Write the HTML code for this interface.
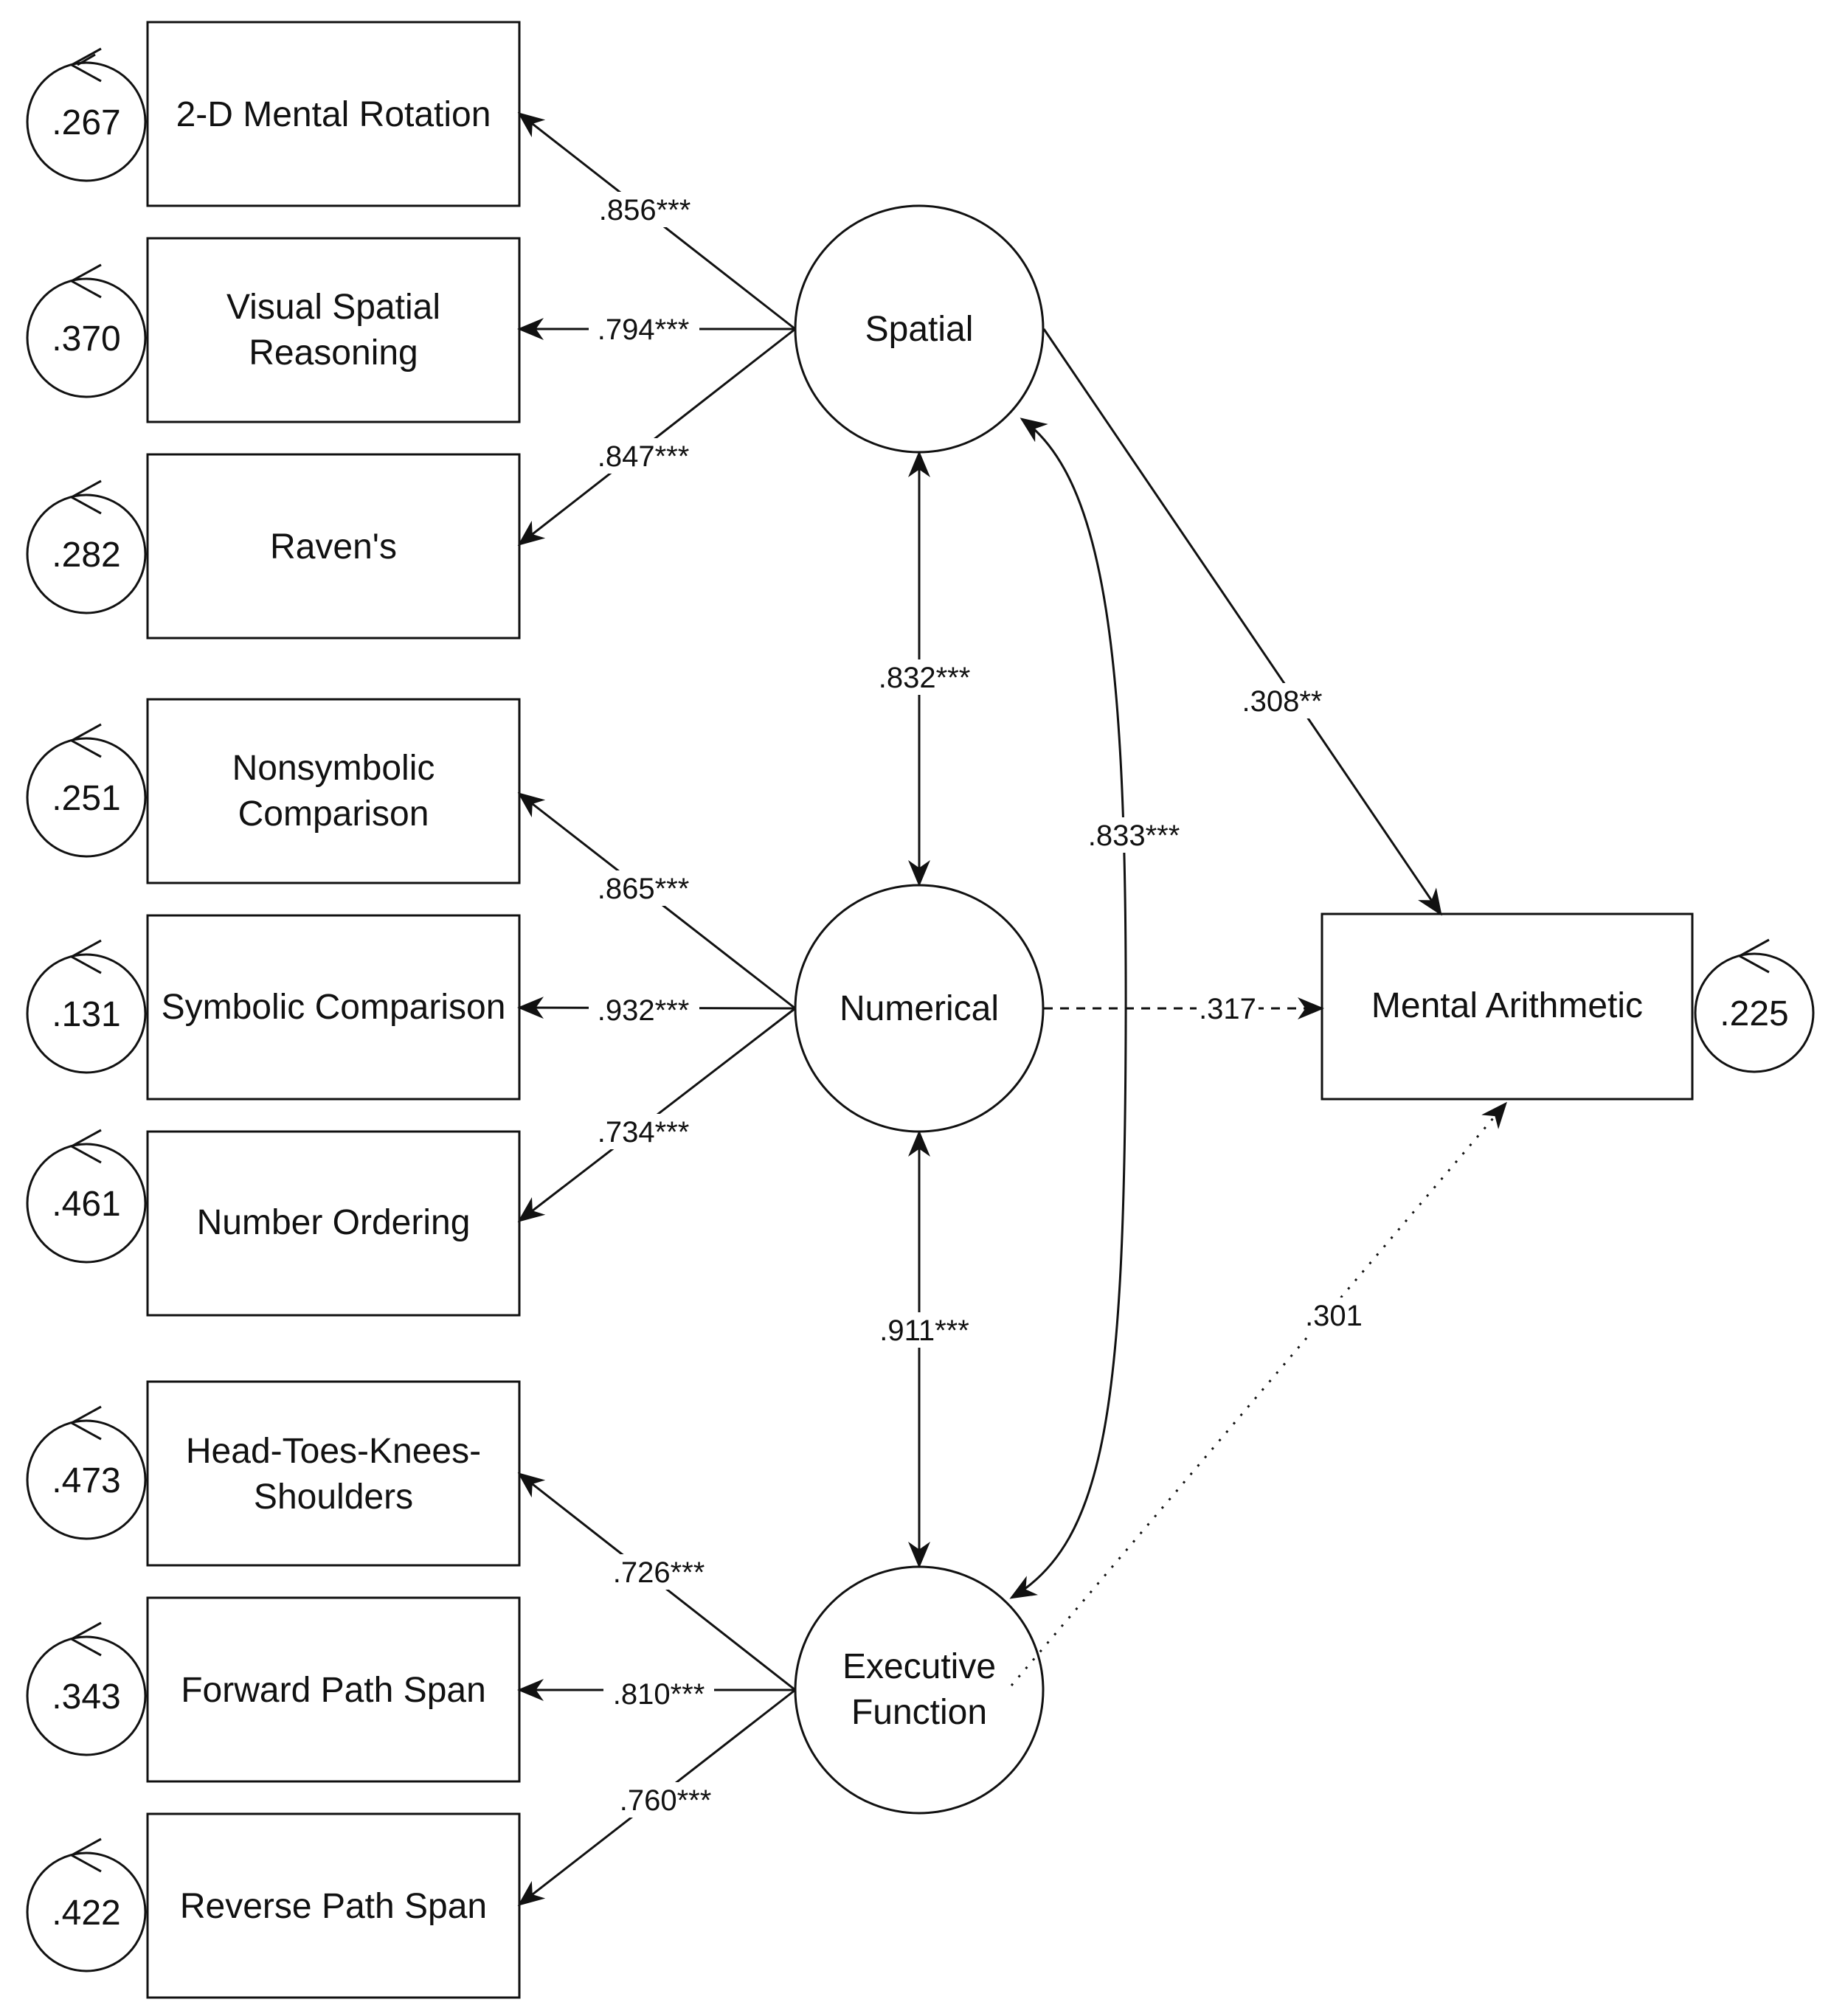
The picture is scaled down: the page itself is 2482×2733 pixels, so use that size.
<!DOCTYPE html>
<html><head><meta charset="utf-8"><style>
html,body{margin:0;padding:0;background:#fff}
svg{display:block}
text{font-family:"Liberation Sans",Arial,sans-serif;fill:#111}
.n{font-size:48px}
.l{font-size:40px}
</style></head><body>
<svg width="2482" height="2733" viewBox="0 0 2482 2733" xmlns="http://www.w3.org/2000/svg">
<defs>
<marker id="a" viewBox="0 0 12 10" refX="11" refY="5" markerWidth="12" markerHeight="10" markerUnits="userSpaceOnUse" orient="auto-start-reverse">
<path d="M0,0 L12,5 L0,10 L3.5,5 z" fill="#111"/></marker>
<marker id="b" viewBox="0 0 12 10" refX="11" refY="5" markerWidth="36" markerHeight="30" markerUnits="userSpaceOnUse" orient="auto-start-reverse">
<path d="M0,0 L12,5 L0,10 L3.5,5 z" fill="#111"/></marker>
</defs>
<g fill="none" stroke="#111" stroke-width="3">
<!-- boxes -->
<rect x="200" y="30" width="504" height="249"/>
<rect x="200" y="323" width="504" height="249"/>
<rect x="200" y="616" width="504" height="249"/>
<rect x="200" y="948" width="504" height="249"/>
<rect x="200" y="1241" width="504" height="249"/>
<rect x="200" y="1534" width="504" height="249"/>
<rect x="200" y="1873" width="504" height="249"/>
<rect x="200" y="2166" width="504" height="249"/>
<rect x="200" y="2459" width="504" height="249"/>
<rect x="1792" y="1239" width="502" height="251"/>
<!-- latent -->
<ellipse cx="1246" cy="446" rx="168" ry="167"/>
<ellipse cx="1246" cy="1367" rx="168" ry="167"/>
<ellipse cx="1246" cy="2291" rx="168" ry="167"/>
<!-- error circles -->
<g id="errs">
<circle cx="117" cy="165" r="80"/>
<circle cx="117" cy="458" r="80"/>
<circle cx="117" cy="751" r="80"/>
<circle cx="117" cy="1081" r="80"/>
<circle cx="117" cy="1374" r="80"/>
<circle cx="117" cy="1631" r="80"/>
<circle cx="117" cy="2006" r="80"/>
<circle cx="117" cy="2299" r="80"/>
<circle cx="117" cy="2592" r="80"/>
<circle cx="2378" cy="1373" r="80"/>
</g>
<!-- chevrons on error circles -->
<path d="M137,66 L97,88 L137,110 M129,74 L105,88"/>
<path d="M137,359 L97,381 L137,403"/>
<path d="M137,652 L97,674 L137,696"/>
<path d="M137,982 L97,1004 L137,1026"/>
<path d="M137,1275 L97,1297 L137,1319"/>
<path d="M137,1532 L97,1554 L137,1576"/>
<path d="M137,1907 L97,1929 L137,1951"/>
<path d="M137,2200 L97,2222 L137,2244"/>
<path d="M137,2493 L97,2515 L137,2537"/>
<path d="M2398,1274 L2358,1296 L2398,1318"/>
<!-- loadings -->
<line x1="1078" y1="446" x2="704" y2="154" marker-end="url(#b)"/>
<line x1="1078" y1="446" x2="704" y2="446" marker-end="url(#b)"/>
<line x1="1078" y1="446" x2="704" y2="738" marker-end="url(#b)"/>
<line x1="1078" y1="1367" x2="704" y2="1076" marker-end="url(#b)"/>
<line x1="1078" y1="1367" x2="704" y2="1366" marker-end="url(#b)"/>
<line x1="1078" y1="1367" x2="704" y2="1655" marker-end="url(#b)"/>
<line x1="1078" y1="2291" x2="704" y2="1998" marker-end="url(#b)"/>
<line x1="1078" y1="2291" x2="704" y2="2291" marker-end="url(#b)"/>
<line x1="1078" y1="2291" x2="704" y2="2582" marker-end="url(#b)"/>
<!-- correlations -->
<line x1="1246" y1="614" x2="1246" y2="1199" marker-start="url(#b)" marker-end="url(#b)"/>
<line x1="1246" y1="1535" x2="1246" y2="2123" marker-start="url(#b)" marker-end="url(#b)"/>
<path d="M1385,568 C1500,650 1528,900 1526,1400 C1524,1900 1500,2090 1371,2166" marker-start="url(#b)" marker-end="url(#b)"/>
<!-- structural -->
<line x1="1415" y1="446" x2="1953" y2="1239" marker-end="url(#b)"/>
<line x1="1415" y1="1367" x2="1792" y2="1367" stroke-dasharray="12,10" marker-end="url(#b)"/>
<line x1="1371" y1="2285" x2="2041" y2="1496" stroke-dasharray="3,12" marker-end="url(#b)"/>
</g>
<!-- edge labels -->
<g class="l" text-anchor="middle">
<rect x="800" y="260" width="150" height="48" fill="#fff"/><text x="874" y="298">.856***</text>
<rect x="798" y="422" width="150" height="48" fill="#fff"/><text x="872" y="460">.794***</text>
<rect x="798" y="594" width="150" height="48" fill="#fff"/><text x="872" y="632">.847***</text>
<rect x="798" y="1180" width="150" height="48" fill="#fff"/><text x="872" y="1218">.865***</text>
<rect x="798" y="1345" width="150" height="48" fill="#fff"/><text x="872" y="1383">.932***</text>
<rect x="798" y="1510" width="150" height="48" fill="#fff"/><text x="872" y="1548">.734***</text>
<rect x="818" y="2107" width="150" height="48" fill="#fff"/><text x="893" y="2145">.726***</text>
<rect x="818" y="2272" width="150" height="48" fill="#fff"/><text x="893" y="2310">.810***</text>
<rect x="827" y="2416" width="150" height="48" fill="#fff"/><text x="902" y="2454">.760***</text>
<rect x="1178" y="894" width="150" height="48" fill="#fff"/><text x="1253" y="932">.832***</text>
<rect x="1178" y="1779" width="150" height="48" fill="#fff"/><text x="1253" y="1817">.911***</text>
<rect x="1462" y="1108" width="150" height="48" fill="#fff"/><text x="1537" y="1146">.833***</text>
<rect x="1675" y="926" width="130" height="48" fill="#fff"/><text x="1738" y="964">.308**</text>
<rect x="1622" y="1343" width="84" height="48" fill="#fff"/><text x="1664" y="1381">.317</text>
<rect x="1766" y="1759" width="84" height="48" fill="#fff"/><text x="1808" y="1797">.301</text>
</g>
<!-- node labels -->
<g class="n" text-anchor="middle">
<text x="452" y="171">2-D Mental Rotation</text>
<text x="452" y="432">Visual Spatial</text>
<text x="452" y="494">Reasoning</text>
<text x="452" y="757">Raven's</text>
<text x="452" y="1057">Nonsymbolic</text>
<text x="452" y="1119">Comparison</text>
<text x="452" y="1381">Symbolic Comparison</text>
<text x="452" y="1673">Number Ordering</text>
<text x="452" y="1983">Head-Toes-Knees-</text>
<text x="452" y="2045">Shoulders</text>
<text x="452" y="2307">Forward Path Span</text>
<text x="452" y="2600">Reverse Path Span</text>
<text x="2043" y="1379">Mental Arithmetic</text>
<text x="1246" y="462">Spatial</text>
<text x="1246" y="1383">Numerical</text>
<text x="1246" y="2275">Executive</text>
<text x="1246" y="2337">Function</text>
<text x="117" y="182">.267</text>
<text x="117" y="475">.370</text>
<text x="117" y="768">.282</text>
<text x="117" y="1098">.251</text>
<text x="117" y="1391">.131</text>
<text x="117" y="1648">.461</text>
<text x="117" y="2023">.473</text>
<text x="117" y="2316">.343</text>
<text x="117" y="2609">.422</text>
<text x="2378" y="1390">.225</text>
</g>
</svg>
</body></html>
